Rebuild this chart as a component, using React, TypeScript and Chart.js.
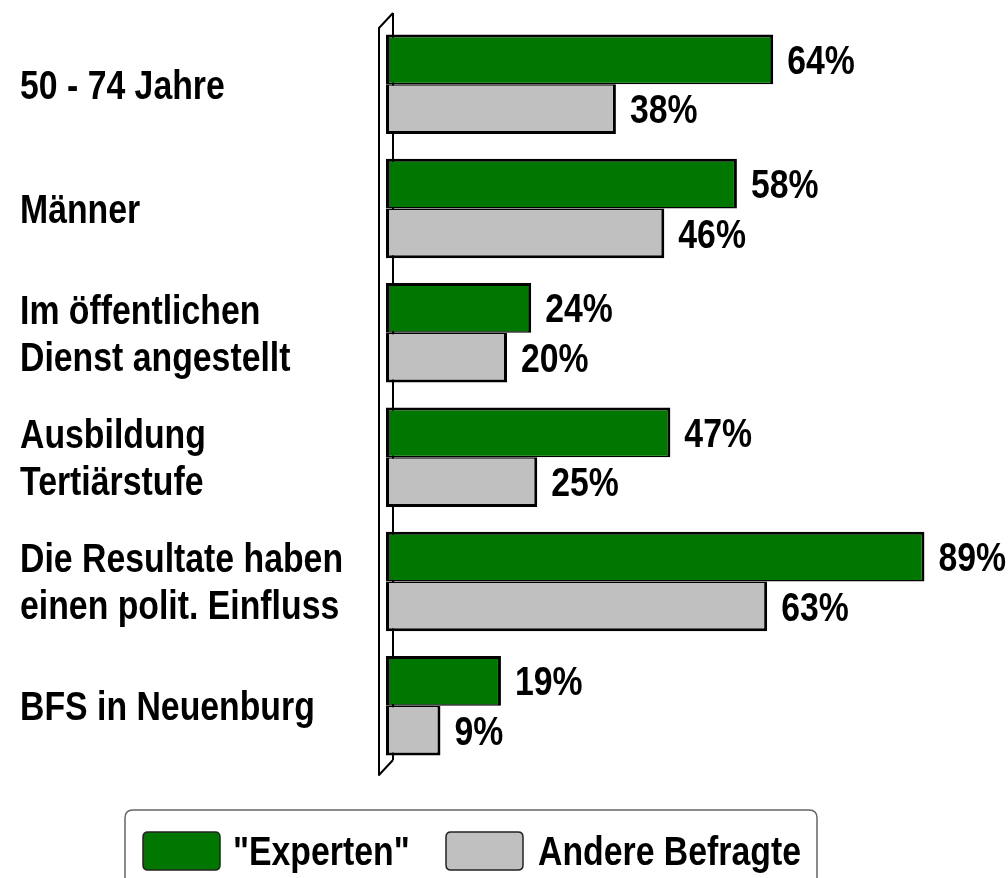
import React, { useEffect, useRef } from "react";
import { Chart, registerables } from "chart.js";

Chart.register(...registerables);

const categories: string[][] = [
  ["50 - 74 Jahre"],
  ["Männer"],
  ["Im öffentlichen", "Dienst angestellt"],
  ["Ausbildung", "Tertiärstufe"],
  ["Die Resultate haben", "einen polit. Einfluss"],
  ["BFS in Neuenburg"],
];
const expertValues = [64, 58, 24, 47, 89, 19];
const otherValues = [38, 46, 20, 25, 63, 9];
const seriesLabels = ['"Experten"', "Andere Befragte"];
const seriesColors = ["#007800", "#c0c0c0"];

const FONT = '"Liberation Sans", Arial, sans-serif';
const SX = 0.845;

function roundRect(ctx: CanvasRenderingContext2D, x: number, y: number, w: number, h: number, r: number) {
  ctx.beginPath();
  ctx.moveTo(x + r, y);
  ctx.lineTo(x + w - r, y);
  ctx.quadraticCurveTo(x + w, y, x + w, y + r);
  ctx.lineTo(x + w, y + h - r);
  ctx.quadraticCurveTo(x + w, y + h, x + w - r, y + h);
  ctx.lineTo(x + r, y + h);
  ctx.quadraticCurveTo(x, y + h, x, y + h - r);
  ctx.lineTo(x, y + r);
  ctx.quadraticCurveTo(x, y, x + r, y);
  ctx.closePath();
}

// narrow text: draw with a horizontal squeeze, vertically centred on cy
function narrowText(ctx: CanvasRenderingContext2D, text: string, x: number, cy: number, size: number) {
  ctx.save();
  ctx.font = `bold ${size}px ${FONT}`;
  ctx.textAlign = "left";
  ctx.textBaseline = "alphabetic";
  ctx.translate(x, cy + 0.36 * size);
  ctx.scale(SX, 1);
  ctx.fillText(text, 0, 0);
  ctx.restore();
}

const decorPlugin = {
  id: "decor",
  beforeDatasetsDraw(chart: any) {
    const { ctx, chartArea } = chart;
    const { left, top, bottom } = chartArea;
    ctx.save();
    ctx.strokeStyle = "#000";
    ctx.lineWidth = 2;
    ctx.lineJoin = "round";
    ctx.beginPath();
    ctx.moveTo(left + 7, top - 9);
    ctx.lineTo(left + 7, bottom - 8);
    ctx.moveTo(left + 7, top - 9);
    ctx.lineTo(left - 7, top + 6);
    ctx.lineTo(left - 7, bottom + 7);
    ctx.lineTo(left + 7, bottom - 8);
    ctx.stroke();
    ctx.restore();
  },
  afterDatasetsDraw(chart: any) {
    const { ctx } = chart;
    const yScale = chart.scales.y;
    ctx.save();
    ctx.fillStyle = "#000";
    categories.forEach((lines, i) => {
      const cy = yScale.getPixelForValue(i);
      const lh = 47;
      lines.forEach((ln, j) => {
        const y = cy + (j - (lines.length - 1) / 2) * lh;
        narrowText(ctx, ln, 20, y, 40);
      });
    });
    chart.data.datasets.forEach((ds: any, di: number) => {
      const meta = chart.getDatasetMeta(di);
      meta.data.forEach((bar: any, i: number) => {
        narrowText(ctx, `${ds.data[i]}%`, bar.x + 14, bar.y, 40);
      });
    });
    // legend
    ctx.lineWidth = 1.5;
    ctx.strokeStyle = "#666";
    roundRect(ctx, 125, 810, 692, 90, 8);
    ctx.stroke();
    const items = [
      { x: 143, tx: 233 },
      { x: 446, tx: 538 },
    ];
    items.forEach((it, k) => {
      roundRect(ctx, it.x, 832, 77, 38, 5);
      ctx.fillStyle = seriesColors[k];
      ctx.fill();
      ctx.strokeStyle = "#222";
      ctx.lineWidth = 1.5;
      ctx.stroke();
      ctx.fillStyle = "#000";
      narrowText(ctx, seriesLabels[k], it.tx, 851, 40);
    });
    ctx.restore();
  },
};

export default function App() {
  const ref = useRef<HTMLCanvasElement>(null);
  useEffect(() => {
    if (!ref.current) return;
    const chart = new Chart(ref.current, {
      type: "bar",
      data: {
        labels: categories.map((c) => c.join(" ")),
        datasets: [
          {
            label: seriesLabels[0],
            data: expertValues,
            backgroundColor: seriesColors[0],
            borderColor: "#000",
            borderWidth: { top: 3, left: 3, right: 3, bottom: 1.5 },
            borderSkipped: false,
            categoryPercentage: 0.8,
            barPercentage: 1.0,
          },
          {
            label: seriesLabels[1],
            data: otherValues,
            backgroundColor: seriesColors[1],
            borderColor: "#000",
            borderWidth: { top: 1.5, left: 3, right: 3, bottom: 3 },
            borderSkipped: false,
            categoryPercentage: 0.8,
            barPercentage: 1.0,
          },
        ],
      },
      options: {
        indexAxis: "y",
        responsive: false,
        animation: false,
        layout: { padding: { left: 386, right: 17, top: 22, bottom: 110 } },
        scales: {
          x: { display: false, min: 0, max: 100 },
          y: { display: false },
        },
        plugins: {
          legend: { display: false },
          tooltip: { enabled: false },
        },
      },
      plugins: [decorPlugin],
    } as any);
    return () => chart.destroy();
  }, []);
  return (
    <div style={{ position: "absolute", left: 0, top: 0, width: 1008, height: 878, background: "#fff" }}>
      <canvas ref={ref} width={1008} height={878} style={{ display: "block" }} />
    </div>
  );
}
